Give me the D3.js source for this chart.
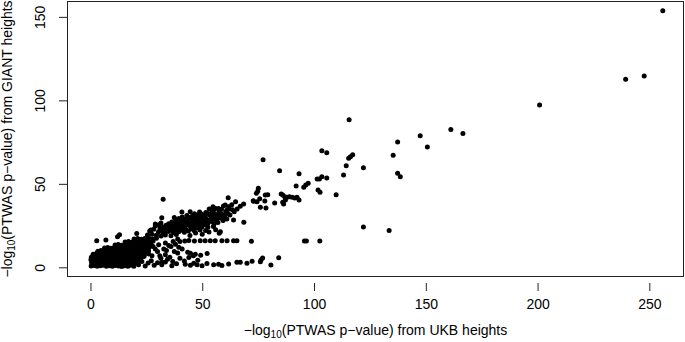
<!DOCTYPE html>
<html>
<head>
<meta charset="utf-8">
<script src="https://cdn.jsdelivr.net/npm/d3@7"></script>
<style>
  html, body { margin: 0; padding: 0; background: #fff; }
  svg { display: block; font-family: "Liberation Sans", Arial, Helvetica, sans-serif; }
</style>
</head>
<body>
<div id="chart"></div>
<script>
// PTWAS scatter: -log10 p from UKB heights (x) vs GIANT heights (y)

const xTicks = [0, 50, 100, 150, 200, 250];
const yTicks = [0, 50, 100, 150];

// the solid mass near the origin
const coreBlob = [
  [0.3,0.8],[1.6,1.1],[3.0,0.6],[4.4,0.9],[5.7,1.2],[7.1,0.7],[8.5,1.0],[9.8,0.6],[11.2,1.1],[12.6,0.8],[14.0,0.5],[15.3,1.0],[16.7,0.7],[18.1,1.2],[19.4,0.6],
  [0.5,2.7],[1.9,2.4],[3.2,2.9],[4.6,2.5],[6.0,2.8],[7.3,2.3],[8.7,2.7],[10.1,2.5],[11.5,2.9],[12.8,2.4],[14.2,2.6],[15.6,2.8],[17.0,2.3],[18.3,2.7],[19.8,2.5],[21.0,3.0],
  [0.2,4.5],[1.5,4.2],[2.9,4.6],[4.3,4.3],[5.6,4.7],[7.0,4.2],[8.4,4.5],[9.7,4.4],[11.1,4.8],[12.5,4.1],[13.9,4.5],[15.2,4.3],[16.6,4.7],[18.0,4.2],[19.3,4.6],[20.7,4.4],[22.2,4.9],
  [0.4,6.1],[1.8,6.4],[3.1,6.0],[4.5,6.3],[5.9,6.5],[7.2,6.0],[8.6,6.2],[10.0,6.4],[11.4,6.1],[12.7,6.5],[14.1,6.0],[15.5,6.3],[16.9,6.2],[18.2,6.6],[19.6,6.0],[21.0,6.4],[22.5,6.1],[24.0,6.7],
  [1.2,7.8],[2.6,8.2],[4.0,7.9],[5.3,8.3],[6.7,7.8],[8.1,8.1],[9.5,8.0],[10.8,8.4],[12.2,7.9],[13.6,8.2],[15.0,7.8],[16.3,8.3],[17.7,8.0],[19.1,8.2],[20.5,7.9],[22.0,8.4],[23.4,8.0],[25.1,8.5],
  [3.3,9.6],[4.7,10.0],[6.1,9.7],[7.5,10.1],[8.8,9.8],[10.2,9.6],[11.6,10.0],[13.0,9.7],[14.3,10.1],[15.7,9.8],[17.1,9.6],[18.5,10.0],[19.9,9.8],[21.3,10.2],[22.8,9.7],[24.4,10.1],[26.0,9.9],
  [6.3,11.5],[7.7,11.8],[9.1,11.4],[10.5,11.7],[11.9,11.9],[13.3,11.5],[14.6,11.8],[16.0,11.6],[17.4,12.0],[18.8,11.5],[20.2,11.8],[21.6,11.4],[23.1,12.0],[24.7,11.6],[26.3,12.1],
  [11.0,13.3],[12.4,13.6],[13.8,13.2],[15.2,13.5],[16.6,13.8],[18.0,13.3],[19.4,13.6],[20.8,13.4],[22.3,13.9],[23.8,13.3],[25.5,13.7],[27.2,13.5],
  [15.5,15.1],[17.0,15.4],[18.5,15.0],[20.0,15.5],[21.5,15.2],[23.0,15.6],[24.6,15.0],[26.2,15.4],[28.0,15.8],
  [19.5,16.9],[21.1,17.3],[22.7,16.8],[24.3,17.2],[26.0,17.5],[27.8,17.0],[29.5,17.4],
  [2.8,15.9],[6.9,16.3],[12.1,18.3],[13.0,19.5],[20.7,20.3],[27.0,22.3],[29.0,25.9]
];

// the diagonal arm rising out of the mass
const diagArm = [
  [25.5,19.3],[27.5,19.8],[26.5,21.8],[28.3,22.8],[29.0,24.8],[31.5,26.5],
  [29.5,19.2],[31.6,18.7],[33.5,19.4],[36.0,18.9],[38.4,19.6],[44.5,19.0],[50.0,19.8],
  [30.4,21.1],[32.6,20.8],[34.8,21.4],[37.1,20.9],[39.5,21.3],[42.0,21.0],[47.0,20.5],[53.0,21.2],
  [32.0,22.0],[34.2,22.1],[36.6,21.9],[38.9,22.2],[41.4,22.0],[43.8,21.8],[46.3,22.1],[49.0,22.3],[51.5,22.0],
  [31.1,23.2],[33.3,22.8],[35.5,23.4],[37.8,22.9],[40.2,23.3],[42.6,22.7],[45.0,23.1],[47.6,23.5],[56.0,22.5],
  [32.6,24.1],[34.8,24.0],[37.2,24.2],[39.7,23.9],[42.2,24.1],[44.8,24.3],[47.3,23.9],[49.8,24.2],[52.5,24.0],[55.0,24.5],
  [33.8,25.2],[36.1,24.8],[38.5,25.4],[41.0,24.9],[43.5,25.3],[46.0,24.7],[48.5,25.1],[51.1,25.5],
  [35.0,26.1],[37.4,26.0],[39.8,26.2],[42.3,25.9],[44.8,26.1],[47.4,26.3],[49.9,25.9],[52.5,26.2],[55.3,26.0],
  [36.4,27.1],[39.0,26.8],[41.5,27.4],[44.1,26.9],[46.6,27.3],[49.0,26.7],[51.6,27.2],[54.1,27.5],[57.0,26.9],
  [38.2,28.0],[40.8,28.1],[43.3,27.9],[45.8,28.2],[48.3,28.0],[50.9,27.9],[53.5,28.2],[56.3,28.0],[59.3,28.1],
  [37.5,29.8],[39.6,29.2],[42.0,28.8],[44.5,29.4],[47.1,28.9],[49.6,29.3],[52.1,28.7],[55.0,29.1],[58.0,29.5],[61.0,29.0],
  [41.0,30.2],[43.8,30.0],[46.3,30.1],[48.9,29.9],[51.4,30.2],[54.2,30.0],[57.2,30.1],[60.1,30.3],
  [43.1,31.1],[45.6,30.8],[48.1,31.3],[50.6,30.9],[53.5,31.2],[56.5,30.7],[59.5,31.1],[62.4,31.4],
  [46.5,32.1],[49.6,32.0],[52.5,32.2],[55.5,31.9],[58.5,32.1],[61.5,32.3],
  [40.9,33.1],[44.6,33.3],[48.8,33.1],[51.6,32.8],[54.5,33.2],[57.4,32.9],[60.5,33.3],[64.3,33.3],
  [55.0,34.1],[57.8,33.9],[61.0,34.2],[63.5,34.5],
  [53.1,35.0],[56.0,35.2],[58.6,34.8],[62.0,35.1],[65.6,35.0],
  [54.8,36.3],[57.3,35.3],[59.5,36.7],[61.8,36.3],[60.3,37.3],[63.2,37.5],[67.0,36.6],[68.5,37.9],
  [61.6,41.7],[64.9,39.3],[32.5,40.7],[31.9,29.7],[30.7,25.5],[64.0,28.3],[68.6,27.0],
  [31.5,5.5],[33.5,7.5],[35.5,6.0],[37.5,9.5],[32.8,11.0],[35.0,13.0],[37.0,15.5],[39.0,17.0],[39.5,12.0],
  [26.0,8.0],[29.0,11.0],[31.0,7.0],[34.0,10.0],[36.0,12.5],[39.0,8.5],[41.0,11.0],[43.5,9.0],
  [46.0,7.0],[49.3,7.3],[52.2,8.2],[30.5,13.5],[33.5,14.5],[38.0,13.8],[44.7,8.4],[46.9,7.9],
  [23.5,6.5],[25.0,9.5],[27.5,7.0],[28.0,12.5],[30.0,9.5],[32.0,3.0],[34.5,4.8],[36.8,3.5],
  [40.0,5.5],[42.0,3.8],[44.0,5.9],[48.0,4.2]
];

// horizontal streak near 16 (and a few just above it)
const band16 = [
  [40.0,15.5],[42.2,15.8],[44.0,16.0],[46.5,15.8],[49.1,15.9],[51.3,15.9],[53.6,15.9],[55.8,15.9],
  [58.8,15.9],[61.1,15.9],[64.0,15.9],[65.5,15.9],[72.0,15.6],[95.7,15.7],[96.6,15.7],[102.6,15.7],
  [58.1,21.3],[57.6,20.4]
];

// streak just above zero
const nearZero = [
  [21.5,1.5],[23.0,3.5],[24.5,0.8],[25.8,2.6],[27.2,4.0],[28.5,1.2],[30.0,2.8],[31.9,1.5],[33.5,3.2],
  [36.4,1.0],[38.5,2.2],[42.4,1.8],[44.7,1.2],[46.2,2.4],[47.7,1.6],[49.9,1.0],[52.1,2.3],[55.1,1.5],
  [57.3,1.9],[58.8,1.1],[61.8,2.0],[65.5,3.0],[67.0,3.0],[70.0,2.4],[72.3,3.6],[76.0,3.4],[76.3,4.4],
  [77.0,5.6],[80.7,1.4],[84.2,5.8]
];

// sparse points further out
const tailPts = [
  [73.0,39.5],[75.7,41.1],[78.0,39.7],[76.0,35.9],[78.5,35.5],[82.4,38.5],[72.8,39.9],[74.5,39.3],
  [75.1,47.3],[74.8,45.5],[74.2,44.3],[78.2,43.3],[79.3,43.5],[77.2,64.4],[84.6,57.8],
  [85.3,43.9],[86.0,43.3],[86.9,42.3],[87.9,41.9],[89.0,42.3],[90.2,41.9],[91.4,41.5],[92.4,41.9],
  [93.3,40.3],[86.0,38.9],[86.4,37.9],[87.2,40.3],
  [92.0,48.7],[93.3,56.0],[97.4,50.3],[96.3,49.3],[95.4,47.9],[101.8,46.3],[102.7,44.9],
  [101.4,52.9],[102.4,52.9],[103.5,54.3],[105.7,53.5],[103.5,69.8],[105.7,68.6],[109.9,43.5],
  [113.2,55.3],[114.4,60.8],[115.5,65.3],[116.3,66.2],[117.3,67.4],[115.7,88.4],[122.1,59.6],
  [122.1,24.1],[133.6,22.1],[135.4,67.1],[137.4,75.0],[137.4,56.3],[138.6,54.3],[147.5,78.8],
  [150.7,72.0],[161.2,82.6],[166.6,80.2],
  [200.9,97.2],[239.4,112.6],[247.7,114.6],[256.0,153.7]
];

const allPts = [].concat(coreBlob, diagArm, band16, nearZero, tailPts);

const W = 685, H = 342;
const box = { left: 67, right: 684, top: 1, bottom: 277 };

const svg = d3.select("#chart").append("svg")
  .attr("width", W).attr("height", H);

const x = d3.scaleLinear().domain([-10.5, 265.5]).range([box.left, box.right]);
const y = d3.scaleLinear().domain([-5.8, 159.5]).range([box.bottom, box.top]);

// points
svg.append("g").selectAll("circle")
  .data(allPts)
  .join("circle")
    .attr("cx", d => x(d[0]))
    .attr("cy", d => y(d[1]))
    .attr("r", 2.5)
    .attr("fill", "#000");

// frame
svg.append("rect")
  .attr("x", box.left + 0.5).attr("y", box.top + 0.5)
  .attr("width", box.right - box.left - 1).attr("height", box.bottom - box.top - 1)
  .attr("fill", "none").attr("stroke", "#222").attr("stroke-width", 1);

// x axis (sits a little below the frame, like the original)
const gx = svg.append("g")
  .attr("transform", `translate(0,${box.bottom + 6})`)
  .call(d3.axisBottom(x).tickValues(xTicks).tickSize(8).tickPadding(8).tickFormat(d3.format("d")));
gx.select(".domain").remove();
gx.selectAll(".tick line").attr("stroke", "#222");
gx.selectAll(".tick text").attr("fill", "#000").style("font-size", "14px")
  .style("font-family", "'Liberation Sans', Arial, sans-serif");

// y axis, labels turned like R's default
const gy = svg.append("g")
  .attr("transform", `translate(${box.left},0)`)
  .call(d3.axisLeft(y).tickValues(yTicks).tickSize(8).tickFormat(d3.format("d")));
gy.select(".domain").remove();
gy.selectAll(".tick line").attr("stroke", "#222");
gy.selectAll(".tick text")
  .attr("x", 0).attr("y", -22).attr("dy", null)
  .attr("text-anchor", "middle")
  .attr("transform", "rotate(-90)")
  .attr("fill", "#000").style("font-size", "14px")
  .style("font-family", "'Liberation Sans', Arial, sans-serif");

// axis titles with subscript 10
function logLabel(sel, rest) {
  sel.append("tspan").text("\u2212log");
  sel.append("tspan").attr("dy", 3).style("font-size", "10px").text("10");
  sel.append("tspan").attr("dy", -3).text(rest);
}

const xl = svg.append("text")
  .attr("x", (box.left + box.right) / 2).attr("y", 335)
  .attr("text-anchor", "middle").style("font-size", "14px").attr("fill", "#000");
logLabel(xl, "(PTWAS p\u2212value) from UKB heights");

const yl = svg.append("text")
  .attr("transform", `translate(12,${(box.top + box.bottom) / 2}) rotate(-90)`)
  .attr("text-anchor", "middle").style("font-size", "14px").attr("fill", "#000");
logLabel(yl, "(PTWAS p\u2212value) from GIANT heights");
</script>
</body>
</html>
